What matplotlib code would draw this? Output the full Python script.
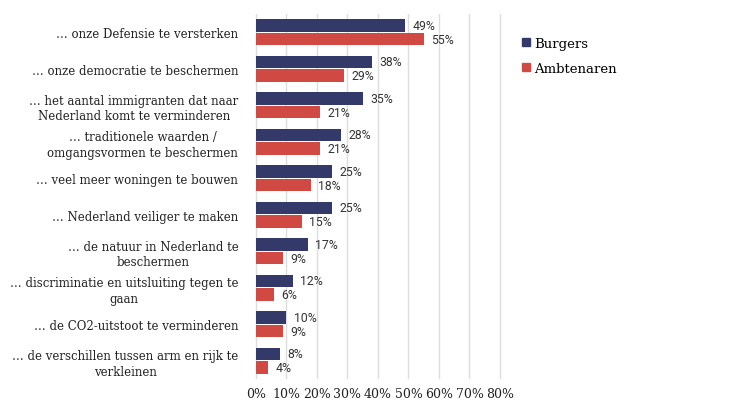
import matplotlib
matplotlib.use("Agg")
import matplotlib.pyplot as plt
import numpy as np
from matplotlib.patches import Patch

categories = [
    "… onze Defensie te versterken",
    "… onze democratie te beschermen",
    "… het aantal immigranten dat naar\nNederland komt te verminderen",
    "… traditionele waarden /\nomgangsvormen te beschermen",
    "… veel meer woningen te bouwen",
    "… Nederland veiliger te maken",
    "… de natuur in Nederland te\nbeschermen",
    "… discriminatie en uitsluiting tegen te\ngaan",
    "… de CO2-uitstoot te verminderen",
    "… de verschillen tussen arm en rijk te\nverkleinen",
]
burgers = [49, 38, 35, 28, 25, 25, 17, 12, 10, 8]
ambtenaren = [55, 29, 21, 21, 18, 15, 9, 6, 9, 4]
series_names = ["Burgers", "Ambtenaren"]
xticks = [0, 10, 20, 30, 40, 50, 60, 70, 80]

navy = "#333a6a"
red = "#d04a43"
serif = "DejaVu Serif"

fig = plt.figure(figsize=(7.31, 4.10), dpi=100)
# 0% at x=256, 80% at x=500 px; leave a small margin so the 80% gridline shows
ax = fig.add_axes([255/731, 1-380/410, 248/731, (380-15)/410])

n = len(categories)
y = np.arange(n)
h = 0.34
off = 0.19
ax.barh(y - off, burgers, height=h, color=navy, zorder=3)
ax.barh(y + off, ambtenaren, height=h, color=red, zorder=3)

for yi, v in zip(y, burgers):
    ax.text(v + 2.4, yi - off, f"{v}%", va="center", ha="left", fontsize=8.8,
            color="#333333", family="Roboto")
for yi, v in zip(y, ambtenaren):
    ax.text(v + 2.4, yi + off, f"{v}%", va="center", ha="left", fontsize=8.8,
            color="#333333", family="Roboto")

ax.set_ylim(n - 0.5, -0.5)
ax.set_xlim(-0.33, 81.0)
ax.set_yticks(y)
ax.set_yticklabels(categories, family=serif, fontsize=8.5, color="#222222",
                   ha="right", multialignment="center", linespacing=1.25)
ax.set_xticks(xticks)
ax.set_xticklabels([f"{t}%" for t in xticks], family=serif, fontsize=9,
                   color="#222222")
ax.tick_params(axis="both", length=0)
ax.tick_params(axis="y", pad=12)
ax.tick_params(axis="x", pad=6)
for s in ax.spines.values():
    s.set_visible(False)
ax.grid(axis="x", color="#dddddd", linewidth=1, zorder=0)
ax.set_axisbelow(True)

handles = [Patch(color=navy), Patch(color=red)]
fig.legend(handles, series_names, loc="upper left", bbox_to_anchor=(510/731, 1-26/410),
           frameon=False, prop={"family": serif, "size": 9.5},
           handlelength=0.6, handleheight=0.6, handletextpad=0.3, labelspacing=0.9)

fig.savefig("out.png", dpi=100)
